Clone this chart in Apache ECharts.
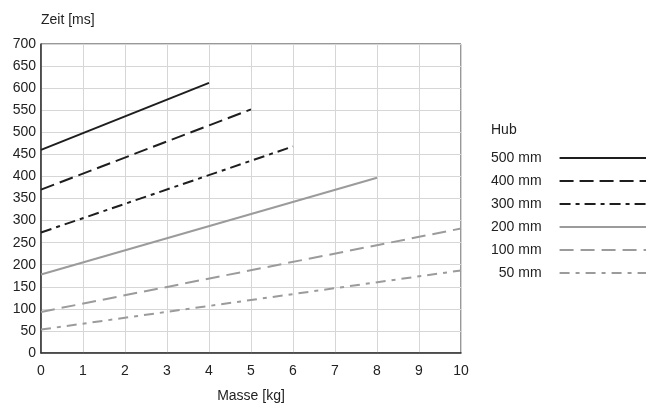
<!DOCTYPE html>
<html>
<head>
<meta charset="utf-8">
<script src="https://cdn.jsdelivr.net/npm/echarts@6/dist/echarts.min.js"></script>
<style>
  html, body { margin: 0; padding: 0; background: #fff; }
  #chart { width: 646px; height: 408px; }
</style>
</head>
<body>
<div id="chart"></div>
<script>
// Hub-Kurven: Zeit [ms] über Masse [kg], jeweils Anfangs- und Endpunkt
const hubNames = ['500 mm', '400 mm', '300 mm', '200 mm', '100 mm', '50 mm'];
const hub500 = [[0, 460], [4, 612]];
const hub400 = [[0, 370], [5, 552]];
const hub300 = [[0, 273], [6, 468]];
const hub200 = [[0, 178], [8, 397]];
const hub100 = [[0, 93], [10, 282]];
const hub50 = [[0, 53], [10, 187]];

const seriesData = [hub500, hub400, hub300, hub200, hub100, hub50];
const lineColors = ['#1e1e1e', '#1e1e1e', '#1e1e1e', '#9b9b9b', '#9b9b9b', '#9b9b9b'];
const lineDashes = ['solid', [14, 6], [11, 5, 4, 5], 'solid', [14, 7], [10, 6, 4, 6]];

const chart = echarts.init(document.getElementById('chart'));

const font = 'Liberation Sans, Arial, sans-serif';

const option = {
    animation: false,
    title: {
        text: 'Hub',
        left: 491,
        top: 123,
        padding: 0,
        textStyle: { fontFamily: font, fontSize: 14, fontWeight: 'normal', color: '#222' }
    },
    legend: {
        orient: 'vertical',
        left: 491,
        top: 151,
        padding: 0,
        align: 'right',
        itemWidth: 87,
        itemHeight: 14,
        itemGap: 9,
        itemStyle: { opacity: 0 },
        data: hubNames,
        textStyle: { fontFamily: font, fontSize: 14, color: '#222', padding: [0, 13, 0, 0] }
    },
    grid: {
        left: 41,
        top: 44,
        width: 420,
        height: 310,
        show: true,
        borderColor: '#333',
        borderWidth: 1,
        containLabel: false
    },
    xAxis: {
        type: 'value',
        min: 0,
        max: 10,
        interval: 1,
        name: 'Masse [kg]',
        nameLocation: 'middle',
        nameGap: 36,
        nameTextStyle: { fontFamily: font, fontSize: 14, color: '#222' },
        axisLine: { show: true, lineStyle: { color: '#333', width: 1.5 } },
        axisTick: { show: false },
        axisLabel: { fontFamily: font, fontSize: 14, color: '#222', margin: 11 },
        splitLine: { show: true, lineStyle: { color: '#d6d6d6', width: 1 } }
    },
    yAxis: {
        type: 'value',
        min: 0,
        max: 700,
        interval: 50,
        name: 'Zeit [ms]',
        nameLocation: 'end',
        nameGap: 17,
        nameTextStyle: { fontFamily: font, fontSize: 14, color: '#222', align: 'left' },
        axisLine: { show: true, lineStyle: { color: '#333', width: 1.5 } },
        axisTick: { show: false },
        axisLabel: { fontFamily: font, fontSize: 14, color: '#222', margin: 5 },
        splitLine: { show: true, lineStyle: { color: '#d6d6d6', width: 1 } }
    },
    series: hubNames.map(function (name, i) {
        return {
            name: name,
            type: 'line',
            data: seriesData[i],
            symbol: 'none',
            color: lineColors[i],
            lineStyle: { color: lineColors[i], width: 2, type: lineDashes[i] }
        };
    })
};

chart.setOption(option);
</script>
</body>
</html>
